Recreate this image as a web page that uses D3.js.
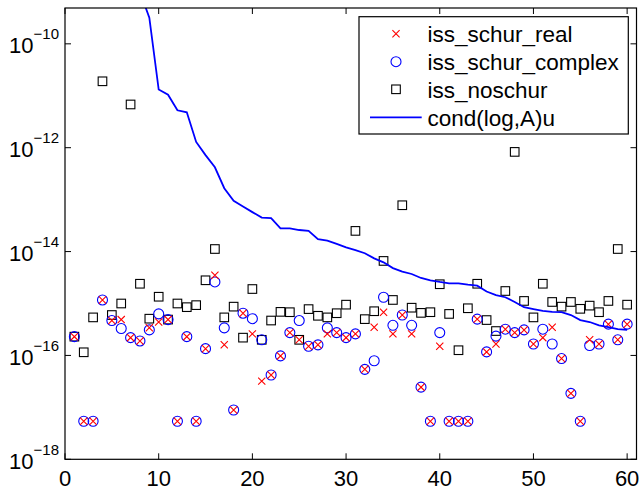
<!DOCTYPE html>
<html>
<head>
<meta charset="utf-8">
<script src="https://cdn.jsdelivr.net/npm/d3@7"></script>
<style>
  html, body { margin: 0; padding: 0; background: #fff; }
  svg { display: block; font-family: "Liberation Sans", Arial, Helvetica, sans-serif; }
</style>
</head>
<body>
<svg id="chart" width="640" height="492"></svg>
<script>
// ---- data ----
const xs = d3.range(1, 61);
const issSchurReal = [2.3e-16, 5.4e-18, 5.4e-18, 1.17e-15, 4.7e-16, 4.9e-16, 2.2e-16, 1.9e-16, 3.4e-16, 4.4e-16,
 4.9e-16, 5.4e-18, 2.3e-16, 5.4e-18, 1.35e-16, 3.5e-15, 1.6e-16, 8.9e-18, 6.5e-16, 2.6e-16,
 3.2e-17, 4.2e-17, 9.8e-17, 2.75e-16, 2.0e-16, 1.5e-16, 1.6e-16, 2.6e-16, 2.75e-16, 2.2e-16,
 2.6e-16, 5.4e-17, 3.5e-16, 6.8e-16, 2.6e-16, 6.0e-16, 2.6e-16, 2.45e-17, 5.4e-18, 1.5e-16,
 5.4e-18, 5.4e-18, 5.4e-18, 5.0e-16, 1.17e-16, 1.66e-16, 3.2e-16, 2.75e-16, 3.1e-16, 1.66e-16,
 2.2e-16, 3.5e-16, 8.7e-17, 1.86e-17, 5.4e-18, 2.0e-16, 1.66e-16, 4.0e-16, 2.0e-16, 4.0e-16];
const issSchurComplex = [2.3e-16, 5.4e-18, 5.4e-18, 1.17e-15, 4.7e-16, 3.3e-16, 2.2e-16, 1.9e-16, 3.1e-16, 6.3e-16,
 4.9e-16, 5.4e-18, 2.3e-16, 5.4e-18, 1.35e-16, 2.6e-15, 3.4e-16, 8.9e-18, 6.5e-16, 5.1e-16,
 2.0e-16, 4.2e-17, 9.8e-17, 2.75e-16, 4.7e-16, 1.5e-16, 1.6e-16, 3.4e-16, 2.75e-16, 2.2e-16,
 2.6e-16, 5.4e-17, 7.9e-17, 1.32e-15, 3.8e-16, 6.0e-16, 3.8e-16, 2.45e-17, 5.4e-18, 2.75e-16,
 5.4e-18, 5.4e-18, 5.4e-18, 5.0e-16, 1.17e-16, 2.35e-16, 3.2e-16, 2.75e-16, 3.1e-16, 1.66e-16,
 3.2e-16, 1.66e-16, 8.7e-17, 1.86e-17, 5.4e-18, 1.55e-16, 1.66e-16, 4.0e-16, 2.0e-16, 4.0e-16];
const issNoschur = [2.3e-16, 1.15e-16, 5.4e-16, 1.9e-11, 6.0e-16, 1.0e-15, 6.8e-12, 2.4e-15, 5.1e-16, 1.35e-15,
 4.9e-16, 1.0e-15, 8.5e-16, 9.3e-16, 2.8e-15, 1.12e-14, 5.4e-16, 8.7e-16, 2.2e-16, 1.9e-15,
 2.0e-16, 4.7e-16, 6.9e-16, 6.8e-16, 2.0e-16, 7.8e-16, 5.8e-16, 5.4e-16, 6.5e-16, 9.5e-16,
 2.5e-14, 5.0e-16, 7.1e-16, 6.6e-15, 1.17e-15, 7.8e-14, 8.3e-16, 6.6e-16, 6.8e-16, 2.35e-15,
 6.3e-16, 1.26e-16, 8.1e-16, 2.4e-15, 4.8e-16, 2.95e-16, 1.74e-15, 8.3e-13, 1.12e-15, 5.4e-16,
 2.4e-15, 1.07e-15, 8.7e-16, 1.07e-15, 7.9e-16, 9.1e-16, 6.8e-16, 1.12e-15, 1.12e-14, 9.5e-16];
const condLogAu = [4e-8, 1.3e-8, 8e-9, 5e-9, 4e-9, 2.5e-9, 1.6e-9, 1.0e-9, 3.2e-10, 1.32e-11,
 1.05e-11, 5.25e-12, 4.8e-12, 1.29e-12, 7.2e-13, 4.2e-13, 1.66e-13, 9.5e-14, 7.4e-14, 5.75e-14,
 4.5e-14, 4.4e-14, 2.8e-14, 2.8e-14, 2.6e-14, 2.5e-14, 1.74e-14, 1.62e-14, 1.41e-14, 1.2e-14,
 1.07e-14, 9.3e-15, 7.4e-15, 6.2e-15, 4.8e-15, 4.1e-15, 3.7e-15, 3.1e-15, 2.8e-15, 2.6e-15,
 2.45e-15, 2.45e-15, 2.3e-15, 2.2e-15, 1.7e-15, 1.45e-15, 1.32e-15, 1.07e-15, 8.5e-16, 7.8e-16,
 7.2e-16, 6.9e-16, 6.8e-16, 6.0e-16, 4.8e-16, 4.4e-16, 3.8e-16, 3.5e-16, 3.2e-16, 3.1e-16];
const xTicks = [0, 10, 20, 30, 40, 50, 60];
const yTickExps = [-18, -16, -14, -12, -10];
const legendLabels = ["iss_schur_real", "iss_schur_complex", "iss_noschur", "cond(log,A)u"];

// ---- layout ----
const L = 65, R = 636.5, T = 8, B = 459.3;
const svg = d3.select("#chart");
const x = d3.scaleLinear().domain([0, 61]).range([L, R]);
const y = d3.scaleLog().domain([1e-18, Math.pow(10, -9.31)]).range([B, T]);

svg.append("defs").append("clipPath").attr("id", "clip")
  .append("rect").attr("x", L).attr("y", T).attr("width", R - L).attr("height", B - T);

const plot = svg.append("g").attr("clip-path", "url(#clip)");

// squares
plot.append("g").selectAll("rect").data(xs).join("rect")
  .attr("x", d => x(d) - 4.3).attr("y", (d, i) => y(issNoschur[i]) - 4.3)
  .attr("width", 8.6).attr("height", 8.6)
  .attr("fill", "none").attr("stroke", "#000").attr("stroke-width", 1.1);
// circles
plot.append("g").selectAll("circle").data(xs).join("circle")
  .attr("cx", d => x(d)).attr("cy", (d, i) => y(issSchurComplex[i])).attr("r", 5)
  .attr("fill", "none").attr("stroke", "#0000ff").attr("stroke-width", 1.1);
// crosses
const cs = 3.6;
plot.append("g").selectAll("path").data(xs).join("path")
  .attr("d", (d, i) => {
    const cx = x(d), cy = y(issSchurReal[i]);
    return `M${cx - cs},${cy - cs}L${cx + cs},${cy + cs}M${cx - cs},${cy + cs}L${cx + cs},${cy - cs}`;
  })
  .attr("fill", "none").attr("stroke", "#ff0000").attr("stroke-width", 1.1);
// line
plot.append("path").datum(xs)
  .attr("d", d3.line().x(d => x(d)).y((d, i) => y(condLogAu[i])))
  .attr("fill", "none").attr("stroke", "#0000ff").attr("stroke-width", 1.8);

// frame
svg.append("rect").attr("x", L).attr("y", T).attr("width", R - L).attr("height", B - T)
  .attr("fill", "none").attr("stroke", "#000").attr("stroke-width", 1.2);

// ticks
const tl = 6;
const tg = svg.append("g").attr("stroke", "#000").attr("stroke-width", 1);
xTicks.forEach(t => {
  tg.append("line").attr("x1", x(t)).attr("x2", x(t)).attr("y1", B).attr("y2", B - tl);
  tg.append("line").attr("x1", x(t)).attr("x2", x(t)).attr("y1", T).attr("y2", T + tl);
});
yTickExps.forEach(e => {
  const yy = y(Math.pow(10, e));
  tg.append("line").attr("x1", L).attr("x2", L + tl).attr("y1", yy).attr("y2", yy);
  tg.append("line").attr("x1", R).attr("x2", R - tl).attr("y1", yy).attr("y2", yy);
});

// tick labels
svg.append("g").selectAll("text").data(xTicks).join("text")
  .attr("x", d => x(d)).attr("y", 486)
  .attr("text-anchor", "middle").attr("font-size", 22).attr("fill", "#000")
  .text(d => d);

const yl = svg.append("g");
yTickExps.forEach(e => {
  const yy = y(Math.pow(10, e));
  const t = yl.append("text").attr("x", 59).attr("y", yy + 9.6)
    .attr("text-anchor", "end").attr("font-size", 22).attr("fill", "#000");
  t.append("tspan").text("10");
  t.append("tspan").attr("font-size", 15).attr("dy", -14.3).text("\u2212" + Math.abs(e));
});

// legend
const lg = svg.append("g");
lg.append("rect").attr("x", 359).attr("y", 16.7).attr("width", 269.3).attr("height", 117.3)
  .attr("fill", "#fff").attr("stroke", "#000").attr("stroke-width", 1.2);
const rowY = [33.7, 61.7, 89.3, 117.3];
const mx = 396;
// cross
lg.append("path")
  .attr("d", `M${mx - cs},${rowY[0] - cs}L${mx + cs},${rowY[0] + cs}M${mx - cs},${rowY[0] + cs}L${mx + cs},${rowY[0] - cs}`)
  .attr("stroke", "#ff0000").attr("stroke-width", 1.1).attr("fill", "none");
lg.append("circle").attr("cx", mx).attr("cy", rowY[1]).attr("r", 5)
  .attr("fill", "none").attr("stroke", "#0000ff").attr("stroke-width", 1.1);
lg.append("rect").attr("x", mx - 4.3).attr("y", rowY[2] - 4.3).attr("width", 8.6).attr("height", 8.6)
  .attr("fill", "none").attr("stroke", "#000").attr("stroke-width", 1.1);
lg.append("line").attr("x1", 370).attr("x2", 421.7).attr("y1", rowY[3]).attr("y2", rowY[3])
  .attr("stroke", "#0000ff").attr("stroke-width", 1.8);
lg.selectAll("text.lab").data(legendLabels).join("text").attr("class", "lab")
  .attr("x", 427.5).attr("y", (d, i) => rowY[i] + 8.5)
  .attr("font-size", 22.5).attr("fill", "#000").text(d => d);
</script>
</body>
</html>
